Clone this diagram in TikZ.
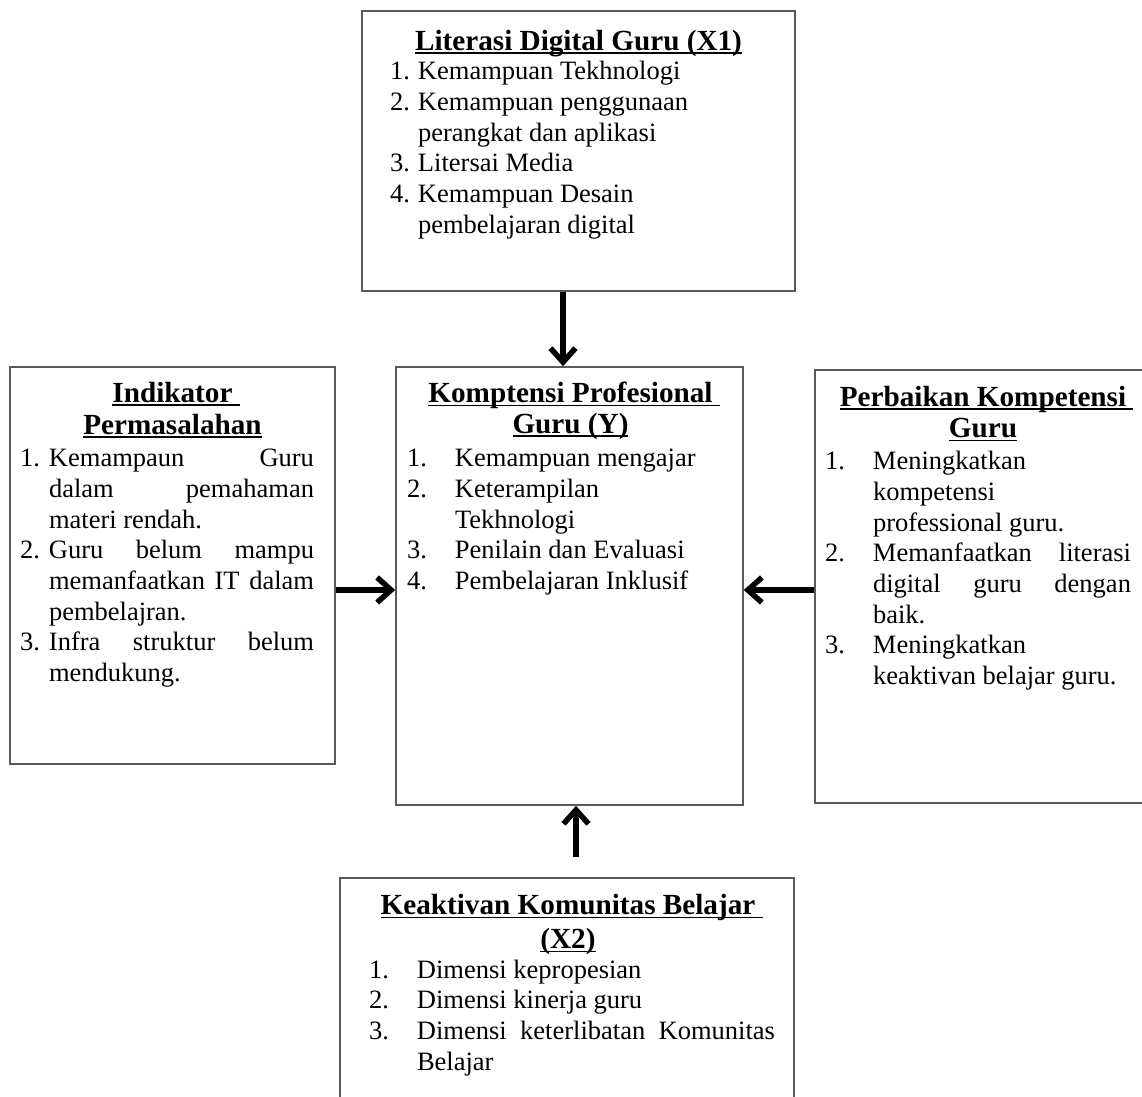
\documentclass[tikz,border=0pt]{standalone}
\usepackage{fontspec}
\setmainfont{Liberation Serif}
\usetikzlibrary{positioning,arrows.meta}

\newsavebox{\judulbox}
\newcommand{\judul}[2][0pt]{\leavevmode\sbox{\judulbox}{\fontsize{14.6}{15.1}\selectfont\bfseries #2}\rlap{\rule[-1.7pt]{\dimexpr\wd\judulbox+#1\relax}{0.75pt}}\usebox{\judulbox}}
\newcommand{\butir}[2]{\par\noindent\rightskip=0pt\relax\spaceskip=0pt\relax\xspaceskip=0pt\relax\hangindent=#1\hangafter=1\makebox[#1][l]{#2}\ignorespaces}
\newcommand{\baru}{\hfil\break}

\tikzset{
	kotak/.style={draw=black!65, line width=0.75pt, inner sep=0pt},
	teks/.style={inner sep=0pt, align=justify, font=\fontsize{13.25}{15.35}\selectfont,
		execute at begin node={\parskip=0pt\tolerance=10000\hyphenpenalty=10000}},
	panah/.style={line width=2.75pt, -{Straight Barb[length=7pt,width=12.5pt]}}
}

\begin{document}
\begin{tikzpicture}[x=0.5pt, y=-0.5pt]
	\useasboundingbox (0,0) rectangle (1142,1097);
	\node[kotak, minimum width=216.5pt, minimum height=140pt] (lit) at (578.5,151) {};
	\node[kotak, minimum width=162.5pt, minimum height=198.5pt] (ind) at (172.5,565.5) {};
	\node[kotak, minimum width=173.5pt, minimum height=219pt] (komp) at (569.5,586) {};
	\node[kotak, minimum width=167.5pt, minimum height=216.5pt] (perb) at (982.5,586.5) {};
	\node[kotak, minimum width=227pt, minimum height=142pt] (kk) at (567,1020) {};

	\node[teks, text width=188.5pt, below=9.1pt of lit.north] (lit-isi) {%
		{\centering\strut\judul{Literasi Digital Guru (X1)}\par}\vskip-0.6pt
		\butir{14pt}{1.}Kemampuan Tekhnologi
		\butir{14pt}{2.}Kemampuan penggunaan\baru perangkat dan aplikasi
		\butir{14pt}{3.}Litersai Media
		\butir{14pt}{4.}Kemampuan Desain\baru pembelajaran digital\par};
	\node[teks, text width=147pt, below=7.1pt of ind.north, xshift=-2.75pt] (ind-isi) {%
		{\centering\leftskip=5.5pt plus 1fil\baselineskip=16pt\strut\judul[3.65pt]{Indikator}\par\judul{Permasalahan}\par}\vskip0.8pt
		\butir{14.5pt}{1.}Kemampaun Guru\linebreak dalam pemahaman\linebreak materi rendah.
		\butir{14.5pt}{2.}Guru belum mampu\linebreak memanfaatkan IT dalam\linebreak pembelajran.
		\butir{14.5pt}{3.}Infra struktur belum\linebreak mendukung.\par};
	\node[teks, text width=163.5pt, below=7.4pt of komp.north, xshift=0.5pt] (komp-isi) {%
		{\centering\baselineskip=15.2pt\strut\judul[3.65pt]{Komptensi Profesional}\par\judul{Guru (Y)}\par}\vskip1.3pt
		\butir{24pt}{1.}Kemampuan mengajar
		\butir{24pt}{2.}Keterampilan\baru Tekhnologi
		\butir{24pt}{3.}Penilain dan Evaluasi
		\butir{24pt}{4.}Pembelajaran Inklusif\par};
	\node[teks, text width=153pt, anchor=north] (perb-isi) at ([yshift=-7.6pt]perb.north -| 978,0) {%
		{\centering\leftskip=5pt plus 1fil\baselineskip=15.8pt\strut\judul[3.65pt]{Perbaikan Kompetensi}\par\judul{Guru}\par}\vskip0.5pt
		\butir{24pt}{1.}Meningkatkan\baru kompetensi\baru professional guru.
		\butir{24pt}{2.}Memanfaatkan literasi\linebreak digital guru dengan\linebreak baik.
		\butir{24pt}{3.}Meningkatkan\baru keaktivan belajar guru.\par};
	\node[teks, text width=203pt, below=7.75pt of kk.north, xshift=2.5pt] (kk-isi) {%
		{\centering\rightskip=4pt plus 1fil\baselineskip=17pt\strut\judul[3.65pt]{Keaktivan Komunitas Belajar}\par\judul{(X2)}\par}\vskip-0.6pt
		\butir{24pt}{1.}Dimensi kepropesian
		\butir{24pt}{2.}Dimensi kinerja guru
		\butir{24pt}{3.}Dimensi keterlibatan Komunitas\linebreak Belajar\par};

	\coordinate (atas) at ([xshift=-3.25pt]komp.north);
	\coordinate (kiri) at ([yshift=-2pt]komp.west);
	\coordinate (kanan) at ([yshift=-2pt]komp.east);
	\coordinate (bawah) at ([xshift=3.25pt]komp.south);
	\draw[panah] (lit.south -| atas) -- (atas);
	\draw[panah] (ind.east |- kiri) -- (kiri);
	\draw[panah] (perb.west |- kanan) -- (kanan);
	\draw[panah, shorten <=10pt] (kk.north -| bawah) -- (bawah);
\end{tikzpicture}
\end{document}
